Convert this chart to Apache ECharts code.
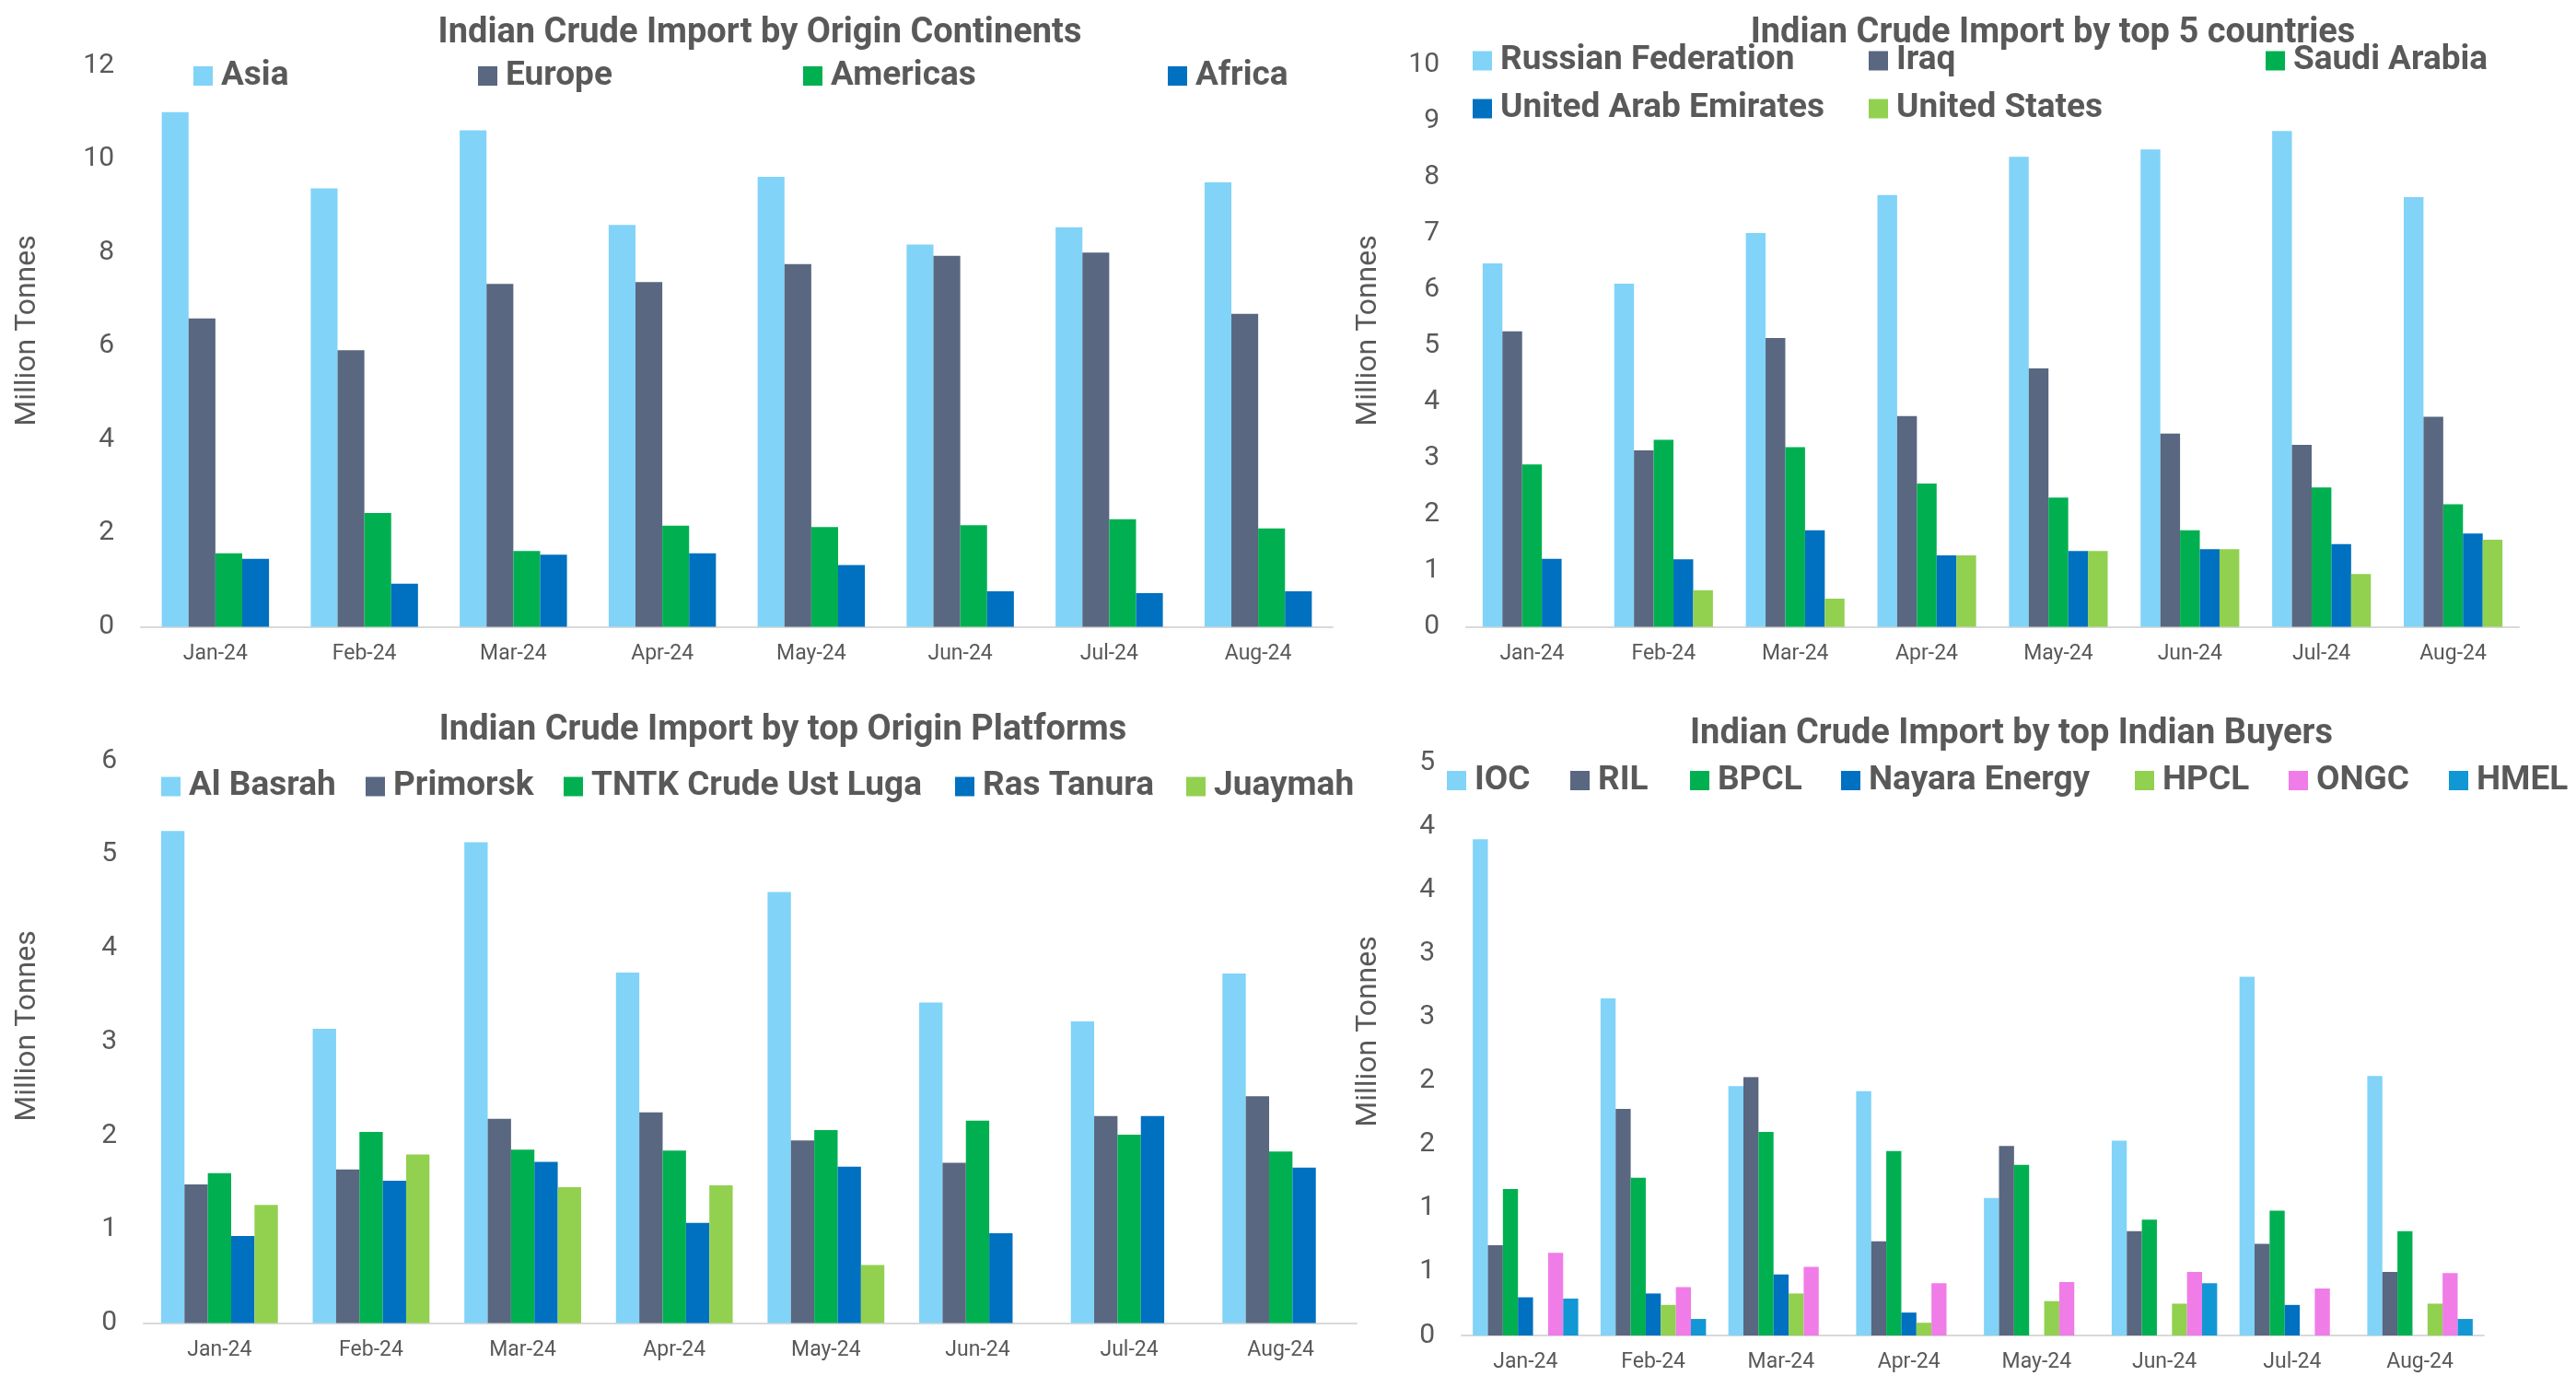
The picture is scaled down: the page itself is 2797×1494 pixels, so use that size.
<!DOCTYPE html>
<html><head><meta charset="utf-8">
<script src="https://cdn.jsdelivr.net/npm/echarts@6/dist/echarts.min.js"></script>
<style>html,body{margin:0;padding:0;background:#fff}#c{width:2797px;height:1494px}</style>
</head><body><div id="c"></div>
<script>
// ---------- DATA ----------
const months = ['Jan-24','Feb-24','Mar-24','Apr-24','May-24','Jun-24','Jul-24','Aug-24'];

// Chart 1: by origin continents
const asia     = [11.00, 9.37, 10.61, 8.59, 9.62, 8.17, 8.54, 9.50];
const europe   = [6.59, 5.91, 7.33, 7.37, 7.75, 7.93, 8.00, 6.69];
const americas = [1.57, 2.43, 1.62, 2.16, 2.13, 2.17, 2.30, 2.10];
const africa   = [1.45, 0.92, 1.54, 1.57, 1.32, 0.76, 0.72, 0.76];

// Chart 2: by top 5 countries
const russia = [6.47, 6.11, 7.01, 7.69, 8.37, 8.50, 8.83, 7.65];
const iraq   = [5.26, 3.14, 5.14, 3.75, 4.60, 3.44, 3.24, 3.74];
const saudi  = [2.89, 3.33, 3.20, 2.55, 2.30, 1.72, 2.48, 2.18];
const uae    = [1.21, 1.20, 1.72, 1.27, 1.35, 1.38, 1.47, 1.66];
const usa    = [0, 0.65, 0.50, 1.27, 1.35, 1.38, 0.94, 1.55];

// Chart 3: by top origin platforms
const alBasrah  = [5.25, 3.14, 5.13, 3.74, 4.60, 3.42, 3.22, 3.73];
const primorsk  = [1.48, 1.64, 2.18, 2.25, 1.95, 1.71, 2.21, 2.42];
const tntk      = [1.60, 2.04, 1.85, 1.84, 2.06, 2.16, 2.01, 1.83];
const rasTanura = [0.93, 1.52, 1.72, 1.07, 1.67, 0.96, 2.21, 1.66];
const juaymah   = [1.26, 1.80, 1.45, 1.47, 0.62, 0, 0, 0];

// Chart 4: by top Indian buyers
const ioc    = [3.90, 2.65, 1.96, 1.92, 1.08, 1.53, 2.82, 2.04];
const ril    = [0.71, 1.78, 2.03, 0.74, 1.49, 0.82, 0.72, 0.50];
const bpcl   = [1.15, 1.24, 1.60, 1.45, 1.34, 0.91, 0.98, 0.82];
const nayara = [0.30, 0.33, 0.48, 0.18, 0, 0, 0.24, 0];
const hpcl   = [0, 0.24, 0.33, 0.10, 0.27, 0.25, 0, 0.25];
const ongc   = [0.65, 0.38, 0.54, 0.41, 0.42, 0.50, 0.37, 0.49];
const hmel   = [0.29, 0.13, 0, 0, 0, 0.41, 0, 0.13];

const axisTitle = 'Million Tonnes';

// ---------- STYLE ----------
const TXT = '#595959', FONT = 'Roboto';
const C = {lb:'#81d3f8', slate:'#596780', green:'#00b050', blue:'#0070c0',
           lime:'#92d050', pink:'#f07ce8', cyan:'#1297d5'};

const panels = [
  {title:'Indian Crude Import by Origin Continents', tx:825, ty:36,
   grid:{left:153, top:71, width:1294, height:609.5}, max:12, interval:2, gap:'28%',
   series:[['Asia',asia,C.lb],['Europe',europe,C.slate],['Americas',americas,C.green],['Africa',africa,C.blue]],
   legend:[[210,82.5],[519,82.5],[872,82.5],[1268,82.5]], nx:30, ny:359},
  {title:'Indian Crude Import by top 5 countries', tx:2229, ty:36,
   grid:{left:1592, top:70.8, width:1143, height:609.7}, max:10, interval:1, gap:'25%',
   series:[['Russian Federation',russia,C.lb],['Iraq',iraq,C.slate],['Saudi Arabia',saudi,C.green],
           ['United Arab Emirates',uae,C.blue],['United States',usa,C.lime]],
   legend:[[1599,66],[2029,66],[2460,66],[1599,118],[2029,118]], nx:1486, ny:359},
  {title:'Indian Crude Import by top Origin Platforms', tx:850, ty:793,
   grid:{left:156, top:826, width:1317, height:610.6}, max:6, interval:1, gap:'23%',
   series:[['Al Basrah',alBasrah,C.lb],['Primorsk',primorsk,C.slate],['TNTK Crude Ust Luga',tntk,C.green],
           ['Ras Tanura',rasTanura,C.blue],['Juaymah',juaymah,C.lime]],
   legend:[[175,854],[397,854],[612,854],[1037,854],[1288,854]], nx:30, ny:1114},
  {title:'Indian Crude Import by top Indian Buyers', tx:2184, ty:797,
   grid:{left:1587, top:828.3, width:1110, height:621.7}, max:4.5, interval:0.5, gap:'17.5%',
   round:true,
   series:[['IOC',ioc,C.lb],['RIL',ril,C.slate],['BPCL',bpcl,C.green],['Nayara Energy',nayara,C.blue],
           ['HPCL',hpcl,C.lime],['ONGC',ongc,C.pink],['HMEL',hmel,C.cyan]],
   legend:[[1571,847.5],[1705,847.5],[1835,847.5],[1999,847.5],[2318,847.5],[2485,847.5],[2659,847.5]],
   nx:1486, ny:1120}
];

const option = {
  backgroundColor:'#fff', animation:false,
  textStyle:{fontFamily:FONT},
  grid:[], xAxis:[], yAxis:[], series:[], legend:[], graphic:[]
};

panels.forEach((p, i) => {
  option.grid.push(Object.assign({containLabel:false}, p.grid));
  option.xAxis.push({
    type:'category', gridIndex:i, data:months,
    axisLine:{show:true, lineStyle:{color:'#d9d9d9', width:2}},
    axisTick:{show:false},
    axisLabel:{fontSize:23, color:TXT, fontFamily:FONT, margin:18}
  });
  option.yAxis.push({
    type:'value', gridIndex:i, min:0, max:p.max, interval:p.interval,
    splitLine:{show:false}, axisLine:{show:false}, axisTick:{show:false},
    axisLabel:{fontSize:30, color:TXT, fontFamily:FONT, margin:29,
      formatter: p.round ? (v => String(Math.round(v))) : (v => String(v))}
  });
  p.series.forEach((s, k) => {
    option.series.push({
      type:'bar', name:s[0], data:s[1], xAxisIndex:i, yAxisIndex:i,
      barGap:'0%', barCategoryGap:p.gap,
      itemStyle:{color:s[2]}
    });
    option.legend.push({
      data:[s[0]], left:p.legend[k][0], top:p.legend[k][1]-20, padding:0,
      icon:'rect', itemWidth:21, itemHeight:21, selectedMode:false,
      textStyle:{fontSize:37, fontWeight:'bold', color:TXT, fontFamily:FONT, lineHeight:40, padding:[0,0,0,4]}
    });
  });
  option.graphic.push({
    type:'text', x:p.tx, y:p.ty, silent:true,
    style:{text:p.title, fill:TXT, font:'bold 38px Roboto', textAlign:'center', textVerticalAlign:'middle'}
  });
  option.graphic.push({
    type:'text', x:p.nx, y:p.ny, rotation:Math.PI/2, silent:true,
    style:{text:axisTitle, fill:TXT, font:'32px Roboto', textAlign:'center', textVerticalAlign:'middle'}
  });
});

const chart = echarts.init(document.getElementById('c'), null, {renderer:'canvas'});
chart.setOption(option);
</script>
</body></html>
